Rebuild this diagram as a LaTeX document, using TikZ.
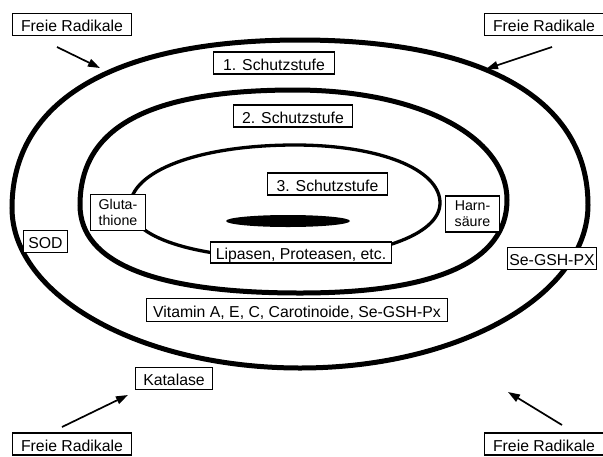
\documentclass[tikz,border=0pt]{standalone}
\usepackage{fontspec}
\setmainfont{Liberation Sans}
\usetikzlibrary{arrows.meta}
\newcommand\lblfont{\fontsize{15.8}{18}\selectfont}
\newcommand\twofont{\fontsize{14.2}{16}\selectfont}
\tikzset{
  lbl/.style={draw, fill=white, line width=1.6pt, inner sep=0pt, font=\lblfont,
    text height=14pt, text depth=0pt, minimum height=22pt},
  lbltwo/.style={draw, fill=white, line width=1.6pt, inner sep=0pt, font=\twofont,
    align=center},
  ring/.style={line width=5pt},
  thinring/.style={line width=3.3pt},
  arr/.style={line width=1.7pt, -{Triangle[length=12pt,width=8pt]}},
}
\begin{document}
\begin{tikzpicture}[x=1pt,y=-1pt]
\useasboundingbox (0,0) rectangle (603,456);
% outer ring
\draw[ring] (12,208) .. controls (12,100) and (115,40) .. (300,40)
  .. controls (485,40) and (588,100) .. (588,205)
  .. controls (588,295) and (459,368) .. (300,368)
  .. controls (141,368) and (12,296) .. cycle;
% middle ring
\draw[ring] (80,205) .. controls (80,127) and (149,90) .. (295,90)
  .. controls (418,90) and (507,136) .. (507,200)
  .. controls (507,261) and (437,293) .. (300,293)
  .. controls (155,293) and (80,263) .. cycle;
% inner ring
\draw[thinring] (130,207) .. controls (130,171) and (199,145) .. (295,145)
  .. controls (379,145) and (440,169) .. (440,203)
  .. controls (440,235) and (375,258) .. (285,258)
  .. controls (195,258) and (130,237) .. cycle;
% core
\fill (288,221) ellipse [x radius=62, y radius=6];

% labels
\node[lbl, minimum width=119pt] (fr1) at (72,24.5) {Freie Radikale};
\node[lbl, minimum width=119pt] (fr2) at (544,24.5) {Freie Radikale};
\node[lbl, minimum width=119pt] (fr3) at (72,444) {Freie Radikale};
\node[lbl, minimum width=119pt] (fr4) at (544,444) {Freie Radikale};
\node[lbl, minimum width=121pt] (s1) at (274,63) {1. Schutzstufe};
\node[lbl, minimum width=119pt] (s2) at (293,116) {2. Schutzstufe};
\node[lbl, minimum width=120pt] (s3) at (327.5,184) {3. Schutzstufe};
\node[lbltwo, minimum width=55pt, minimum height=36pt] (glu) at (118,212.5) {Gluta-\\thione};
\node[lbltwo, minimum width=54pt, minimum height=36pt] (harn) at (472.5,214) {Harn-\\säure};
\node[lbl, minimum width=181pt, minimum height=21pt] (lip) at (301,252.5) {Lipasen, Proteasen, etc.};
\node[lbl, minimum width=44pt] (sod) at (45.5,241.5) {SOD};
\node[lbl, minimum width=89pt] (segsh) at (552,258.5) {Se-GSH-PX};
\node[lbl, minimum width=301pt, minimum height=23pt] (vit) at (297,310) {Vitamin A, E, C, Carotinoide, Se-GSH-Px};
\node[lbl, minimum width=77pt] (kat) at (174,378.5) {Katalase};

% arrows
\coordinate (a1s) at (57,47);   \coordinate (a1e) at (100,68);
\coordinate (a2s) at (552,47);  \coordinate (a2e) at (486,69);
\coordinate (a3s) at (62,427);  \coordinate (a3e) at (128,395);
\coordinate (a4s) at (562,425); \coordinate (a4e) at (508,392);
\draw[arr] (a1s) -- (a1e);
\draw[arr] (a2s) -- (a2e);
\draw[arr] (a3s) -- (a3e);
\draw[arr] (a4s) -- (a4e);
\end{tikzpicture}
\end{document}
